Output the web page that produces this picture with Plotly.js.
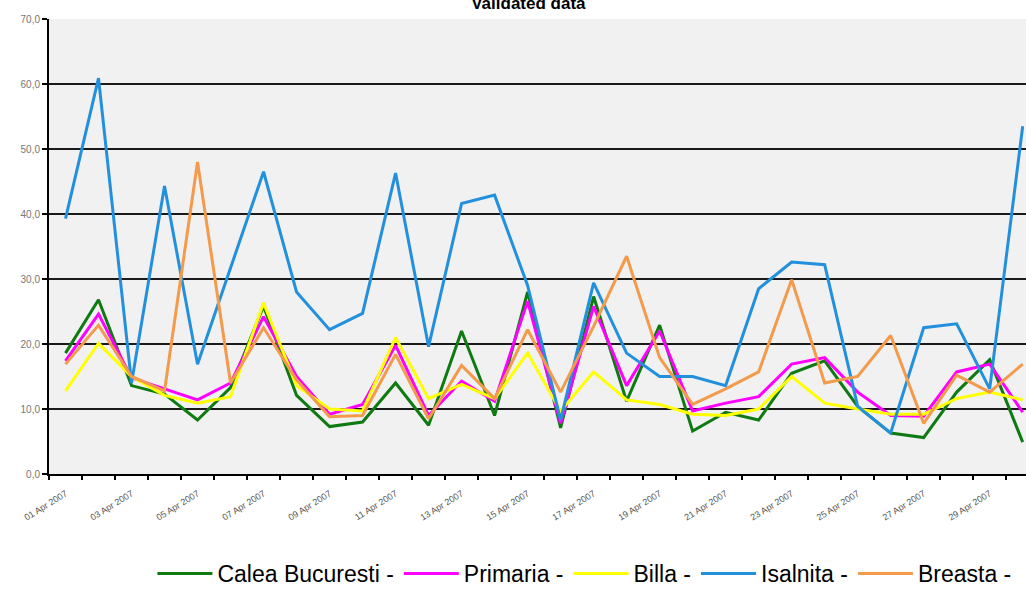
<!DOCTYPE html>
<html>
<head>
<meta charset="utf-8">
<script src="https://cdn.plot.ly/plotly-3.0.1.min.js"></script>
<style>
html,body{margin:0;padding:0;background:#fff;}
#chart{width:1026px;height:595px;}
</style>
</head>
<body>
<div id="chart"></div>
<script>
var days = ["01 Apr 2007","02 Apr 2007","03 Apr 2007","04 Apr 2007","05 Apr 2007","06 Apr 2007",
  "07 Apr 2007","08 Apr 2007","09 Apr 2007","10 Apr 2007","11 Apr 2007","12 Apr 2007",
  "13 Apr 2007","14 Apr 2007","15 Apr 2007","16 Apr 2007","17 Apr 2007","18 Apr 2007",
  "19 Apr 2007","20 Apr 2007","21 Apr 2007","22 Apr 2007","23 Apr 2007","24 Apr 2007",
  "25 Apr 2007","26 Apr 2007","27 Apr 2007","28 Apr 2007","29 Apr 2007","30 Apr 2007"];
var tickLabels = ["01 Apr 2007","03 Apr 2007","05 Apr 2007","07 Apr 2007","09 Apr 2007",
  "11 Apr 2007","13 Apr 2007","15 Apr 2007","17 Apr 2007","19 Apr 2007","21 Apr 2007",
  "23 Apr 2007","25 Apr 2007","27 Apr 2007","29 Apr 2007"];

var caleaBucuresti = [18.6,26.8,13.6,12.3,8.3,13.3,25.8,12.1,7.3,8.0,14.0,7.5,22.0,9.0,28.0,7.1,27.3,11.2,22.9,6.6,9.5,8.3,15.5,17.4,10.4,6.3,5.6,12.6,17.6,4.9];
var primaria = [17.4,24.6,14.8,13.1,11.4,14.0,24.2,15.0,9.2,10.7,19.8,9.0,14.3,11.2,26.6,7.8,25.8,13.6,22.0,9.7,10.9,11.9,16.9,17.9,12.6,9.0,8.9,15.7,16.9,9.5];
var billa = [12.8,20.1,15.0,12.1,10.9,11.9,26.3,13.6,10.0,9.7,21.0,11.6,13.8,11.6,18.6,9.7,15.7,11.4,10.7,9.2,9.0,10.0,15.0,10.9,10.0,9.2,9.2,11.6,12.6,11.4];
var isalnita = [39.3,60.9,14.0,44.3,16.9,31.7,46.5,28.0,22.2,24.7,46.3,19.6,41.6,42.9,29.0,8.3,29.4,18.6,15.0,15.0,13.6,28.5,32.6,32.2,10.4,6.3,22.5,23.1,13.1,53.5];
var breasta = [16.9,22.9,15.0,12.8,48.0,14.0,22.5,14.5,8.8,9.0,18.4,8.5,16.7,11.6,22.2,12.6,22.7,33.5,17.9,10.7,13.1,15.7,29.9,14.0,15.0,21.3,7.8,15.2,12.6,16.9];

var seriesNames = ["Calea Bucuresti -","Primaria -","Billa -","Isalnita -","Breasta -"];
var seriesData = [caleaBucuresti, primaria, billa, isalnita, breasta];
var seriesColors = ["#0f7a12","#ff00ff","#ffff00","#2390dd","#f39a4b"];

var traces = seriesData.map(function(vals, k){
  return {
    x: days, y: vals, name: seriesNames[k], type: "scatter", mode: "lines",
    line: {color: seriesColors[k], width: 3}, xaxis: "x", yaxis: "y"
  };
});
// empty helper trace so the boundary-tick axis is drawn
traces.push({x: [], y: [], type: "scatter", mode: "lines", xaxis: "x2", yaxis: "y",
  showlegend: false, hoverinfo: "skip"});

var layout = {
  width: 1026, height: 595,
  margin: {l: 49, r: 0, t: 19, b: 91, pad: 0},
  paper_bgcolor: "#ffffff",
  plot_bgcolor: "#f1f1f1",
  separators: ", ",
  showlegend: true,
  title: {
    text: "<b>Validated data</b>",
    font: {family: "Liberation Sans, Arial, sans-serif", size: 17, color: "#000"},
    x: 0.515, xref: "container", xanchor: "center",
    y: 0.985, yref: "container", yanchor: "bottom"
  },
  xaxis: {
    type: "category",
    range: [-0.5, 29.1],
    tickmode: "array",
    tickvals: tickLabels,
    ticktext: tickLabels,
    tickangle: -32,
    ticks: "",
    ticklabelstandoff: 9,
    showgrid: false,
    zeroline: false,
    showline: true, linecolor: "#000", linewidth: 2,
    tickfont: {family: "Liberation Sans, Arial, sans-serif", size: 9, color: "#555"},
    fixedrange: true
  },
  xaxis2: {
    type: "linear",
    overlaying: "x", anchor: "y", side: "bottom",
    range: [-0.5, 29.1],
    tickmode: "linear", tick0: 0.5, dtick: 1,
    ticks: "outside", ticklen: 5, tickwidth: 1.5, tickcolor: "#000",
    showticklabels: false, showgrid: false, zeroline: false, showline: false
  },
  yaxis: {
    range: [0, 70],
    tickmode: "linear", tick0: 0, dtick: 10,
    tickformat: ".1f",
    ticks: "outside", ticklen: 5, tickwidth: 1.5, tickcolor: "#000",
    showgrid: true, gridcolor: "#1a1a1a", gridwidth: 2,
    zeroline: false,
    showline: true, linecolor: "#000", linewidth: 2,
    tickfont: {family: "Liberation Sans, Arial, sans-serif", size: 10, color: "#777"},
    fixedrange: true
  },
  legend: {
    orientation: "h",
    x: 0.548, xanchor: "center",
    y: -0.172, yanchor: "top",
    font: {family: "Liberation Sans, Arial, sans-serif", size: 23, color: "#000"},
    bgcolor: "rgba(0,0,0,0)",
    itemwidth: 55,
    traceorder: "normal"
  }
};

Plotly.newPlot("chart", traces, layout, {displayModeBar: false, staticPlot: true});
</script>
</body>
</html>
